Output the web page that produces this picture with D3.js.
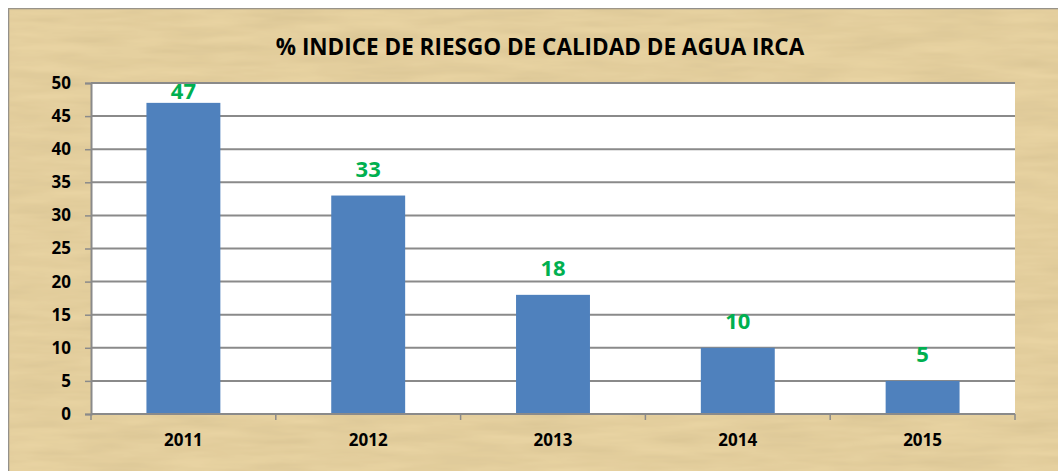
<!DOCTYPE html>
<html lang="es">
<head>
    <meta charset="UTF-8">
    <style>
        body { margin: 0; background: #fff; }
        text { font-family: "Open Sans", "Liberation Sans", sans-serif; font-weight: bold; }
    </style>
    <script src="https://d3js.org/d3.v7.min.js"></script>
</head>
<body>
    <div id="chart"></div>
    <script>
        var years = ["2011", "2012", "2013", "2014", "2015"];
        var irca = [47, 33, 18, 10, 5];
        var yTicks = [0, 5, 10, 15, 20, 25, 30, 35, 40, 45, 50];
        var title = "% INDICE DE RIESGO DE CALIDAD DE AGUA IRCA";

        var W = 1058, H = 471;
        var plot = { left: 91, top: 83, right: 1015, bottom: 414 };

        var svg = d3.select("#chart").append("svg")
            .attr("width", W)
            .attr("height", H);

        // papyrus-like texture
        var defs = svg.append("defs");
        var f = defs.append("filter").attr("id", "papyrus")
            .attr("x", 0).attr("y", 0).attr("width", "100%").attr("height", "100%");
        f.append("feTurbulence")
            .attr("type", "fractalNoise")
            .attr("baseFrequency", "0.012 0.09")
            .attr("numOctaves", 3)
            .attr("seed", 4)
            .attr("result", "noise");
        f.append("feColorMatrix")
            .attr("in", "noise")
            .attr("type", "matrix")
            .attr("values", "0 0 0 0 0.55  0 0 0 0 0.42  0 0 0 0 0.2  0.5 0 0 0 -0.1")
            .attr("result", "tint");
        f.append("feComposite").attr("in", "tint").attr("in2", "SourceGraphic").attr("operator", "atop");

        svg.append("rect")
            .attr("x", 8.5).attr("y", 8.5)
            .attr("width", W).attr("height", H)
            .attr("fill", "#e8d3a2")
            .attr("stroke", "#8c8c8c")
            .attr("stroke-width", 1.5)
            .attr("filter", "url(#papyrus)");

        var x = d3.scaleBand()
            .domain(years)
            .range([plot.left, plot.right])
            .paddingInner(0.6)
            .paddingOuter(0.3);

        var y = d3.scaleLinear()
            .domain([0, 50])
            .range([plot.bottom, plot.top]);

        svg.append("rect")
            .attr("x", plot.left).attr("y", plot.top)
            .attr("width", plot.right - plot.left)
            .attr("height", plot.bottom - plot.top)
            .attr("fill", "#fff");

        // gridlines
        svg.append("g")
            .selectAll("line")
            .data(yTicks.filter(function (d) { return d > 0; }))
            .enter().append("line")
            .attr("x1", plot.left).attr("x2", plot.right)
            .attr("y1", function (d) { return y(d); })
            .attr("y2", function (d) { return y(d); })
            .attr("stroke", "#8a8a8a")
            .attr("stroke-width", 2);

        // bars
        svg.append("g")
            .selectAll("rect")
            .data(irca)
            .enter().append("rect")
            .attr("x", function (d, i) { return x(years[i]); })
            .attr("y", function (d) { return y(d); })
            .attr("width", x.bandwidth())
            .attr("height", function (d) { return y(0) - y(d); })
            .attr("fill", "#4f81bd");

        // value labels
        svg.append("g")
            .selectAll("text")
            .data(irca)
            .enter().append("text")
            .attr("x", function (d, i) { return x(years[i]) + x.bandwidth() / 2; })
            .attr("y", function (d) { return Math.max(y(d) - 19, plot.top + 16); })
            .attr("text-anchor", "middle")
            .attr("fill", "#00b050")
            .attr("font-size", "22px")
            .text(function (d) { return d; });

        // y axis
        var yAxis = svg.append("g")
            .attr("transform", "translate(" + plot.left + ",0)")
            .call(d3.axisLeft(y).tickValues(yTicks).tickSize(6).tickPadding(14));
        yAxis.select(".domain").attr("stroke", "#8a8a8a").attr("stroke-width", 2);
        yAxis.selectAll(".tick line").attr("stroke", "#8a8a8a").attr("stroke-width", 1.5);
        yAxis.selectAll("text").attr("font-size", "17px").attr("fill", "#000")
            .attr("font-family", "'Open Sans', sans-serif").attr("font-weight", "bold");

        // x axis
        var bounds = d3.range(years.length + 1).map(function (i) { return plot.left + i * (plot.right - plot.left) / years.length; });
        var xg = svg.append("g");
        xg.append("line")
            .attr("x1", plot.left).attr("x2", plot.right)
            .attr("y1", plot.bottom).attr("y2", plot.bottom)
            .attr("stroke", "#8a8a8a").attr("stroke-width", 2);
        xg.selectAll(".xt")
            .data(bounds)
            .enter().append("line")
            .attr("class", "xt")
            .attr("x1", function (d) { return d; }).attr("x2", function (d) { return d; })
            .attr("y1", plot.bottom).attr("y2", plot.bottom + 6)
            .attr("stroke", "#8a8a8a").attr("stroke-width", 1.5);
        xg.selectAll("text")
            .data(years)
            .enter().append("text")
            .attr("x", function (d) { return x(d) + x.bandwidth() / 2; })
            .attr("y", 446)
            .attr("text-anchor", "middle")
            .attr("font-size", "17px")
            .text(function (d) { return d; });

        // title
        svg.append("text")
            .attr("x", 540)
            .attr("y", 55)
            .attr("text-anchor", "middle")
            .attr("font-size", "22.5px")
            .text(title);
    </script>
</body>
</html>
